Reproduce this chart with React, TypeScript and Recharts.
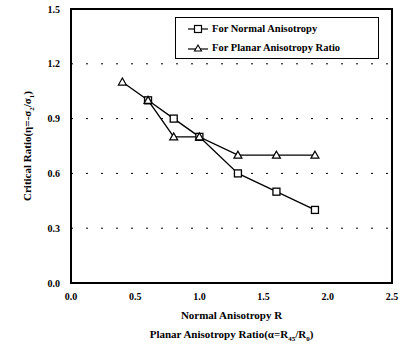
import React from "react";
import {
  LineChart,
  Line,
  XAxis,
  YAxis,
  CartesianGrid,
  Label,
} from "recharts";

// values
const normalR = [0.6, 0.8, 1.0, 1.3, 1.6, 1.9];
const normalRatio = [1.0, 0.9, 0.8, 0.6, 0.5, 0.4];
const planarAlpha = [0.4, 0.6, 0.8, 1.0, 1.3, 1.6, 1.9];
const planarRatio = [1.1, 1.0, 0.8, 0.8, 0.7, 0.7, 0.7];
const xTicks = [0, 0.5, 1.0, 1.5, 2.0, 2.5];
const yTicks = [0, 0.3, 0.6, 0.9, 1.2, 1.5];

const normalData = normalR.map((x, i) => ({ x, y: normalRatio[i] }));
const planarData = planarAlpha.map((x, i) => ({ x, y: planarRatio[i] }));

const FONT = "'Liberation Serif', 'Times New Roman', serif";

// chart box
const W = 413;
const H = 347;
const M = { top: 9, right: 21, left: 0, bottom: 0 };
const Y_AXIS_W = 71;
const X_AXIS_H = 64;

const SquareDot = (props: any) => {
  const { cx, cy } = props;
  if (cx == null || cy == null) return null;
  return (
    <rect x={cx - 3.5} y={cy - 3.5} width={7} height={7} fill="#fff" stroke="#000" strokeWidth={1.3} />
  );
};

const TriangleDot = (props: any) => {
  const { cx, cy } = props;
  if (cx == null || cy == null) return null;
  return (
    <polygon
      points={`${cx},${cy - 4} ${cx - 4},${cy + 3} ${cx + 4},${cy + 3}`}
      fill="#fff"
      stroke="#000"
      strokeWidth={1.2}
    />
  );
};

const LegendBox = () => (
  <div
    style={{
      position: "absolute",
      left: 175,
      top: 17,
      width: 190,
      border: "1px solid #000",
      background: "#fff",
      fontFamily: FONT,
      fontWeight: "bold",
      fontSize: 10.5,
      padding: "1px 0 1px 12px",
      lineHeight: "19px",
      color: "#000",
    }}
  >
    <div style={{ display: "flex", alignItems: "center" }}>
      <svg width={20} height={10} style={{ marginRight: 4 }}>
        <line x1={0} y1={5} x2={20} y2={5} stroke="#000" strokeWidth={1.2} />
        <rect x={6.5} y={1.5} width={7} height={7} fill="#fff" stroke="#000" strokeWidth={1.2} />
      </svg>
      For Normal Anisotropy
    </div>
    <div style={{ display: "flex", alignItems: "center" }}>
      <svg width={20} height={10} style={{ marginRight: 4 }}>
        <line x1={0} y1={6} x2={20} y2={6} stroke="#000" strokeWidth={1.2} />
        <polygon points="10,2 6.5,8 13.5,8" fill="#fff" stroke="#000" strokeWidth={1.1} />
      </svg>
      For Planar Anisotropy Ratio
    </div>
  </div>
);

// thick box around the plot area (same rect as the chart's plot offset)
const Frame = () => {
  const left = M.left + Y_AXIS_W;
  const top = M.top;
  const right = W - M.right;
  const bottom = H - M.bottom - X_AXIS_H;
  return (
    <div
      style={{
        position: "absolute",
        left: left - 1,
        top: top - 1,
        width: right - left + 2,
        height: bottom - top + 2,
        border: "2px solid #000",
        boxSizing: "border-box",
        pointerEvents: "none",
      }}
    />
  );
};

const XTitle = (props: any) => {
  const { viewBox } = props;
  const cx = viewBox.x + viewBox.width / 2;
  const y = viewBox.y;
  return (
    <g fontFamily={FONT} fontWeight="bold" fontSize={11} fill="#000">
      <text x={cx} y={y + 36} textAnchor="middle">
        Normal Anisotropy R
      </text>
      <text x={cx} y={y + 55} textAnchor="middle">
        Planar Anisotropy Ratio(α=R
        <tspan fontSize={7} dy={3}>45</tspan>
        <tspan dy={-3}>/R</tspan>
        <tspan fontSize={7} dy={3}>0</tspan>
        <tspan dy={-3}>)</tspan>
      </text>
    </g>
  );
};

const YTitle = (props: any) => {
  const { viewBox } = props;
  const cy = viewBox.y + viewBox.height / 2;
  const x = 31;
  return (
    <text
      x={x}
      y={cy}
      transform={`rotate(-90, ${x}, ${cy})`}
      textAnchor="middle"
      fontFamily={FONT}
      fontWeight="bold"
      fontSize={11}
      fill="#000"
    >
      Critical Ratio(η=-σ
      <tspan fontSize={7} dy={3}>2</tspan>
      <tspan dy={-3}>/σ</tspan>
      <tspan fontSize={7} dy={3}>1</tspan>
      <tspan dy={-3}>)</tspan>
    </text>
  );
};

const tickStyle = { fontFamily: FONT, fontWeight: "bold" as const, fontSize: 10, fill: "#000" };

export default function App() {
  return (
    <div style={{ position: "absolute", left: 0, top: 0, width: W, height: H, background: "#fff" }}>
      <LineChart width={W} height={H} margin={M}>
        <CartesianGrid vertical={false} stroke="#000" strokeDasharray="2 13" strokeWidth={1} />
        <XAxis
          type="number"
          dataKey="x"
          domain={[0, 2.5]}
          ticks={xTicks}
          tickFormatter={(v: number) => v.toFixed(1)}
          tick={tickStyle}
          tickLine={false}
          tickSize={0}
          tickMargin={10}
          axisLine={false}
          height={X_AXIS_H}
        >
          <Label content={<XTitle />} />
        </XAxis>
        <YAxis
          type="number"
          dataKey="y"
          domain={[0, 1.5]}
          ticks={yTicks}
          tickFormatter={(v: number) => v.toFixed(1)}
          tick={tickStyle}
          tickLine={false}
          tickSize={0}
          tickMargin={11}
          axisLine={false}
          width={Y_AXIS_W}
        >
          <Label content={<YTitle />} />
        </YAxis>
        <Line
          data={normalData}
          dataKey="y"
          name="For Normal Anisotropy"
          stroke="#000"
          strokeWidth={1.3}
          dot={<SquareDot />}
          type="linear"
          isAnimationActive={false}
        />
        <Line
          data={planarData}
          dataKey="y"
          name="For Planar Anisotropy Ratio"
          stroke="#000"
          strokeWidth={1.3}
          dot={<TriangleDot />}
          type="linear"
          isAnimationActive={false}
        />
      </LineChart>
      <Frame />
      <LegendBox />
    </div>
  );
}
